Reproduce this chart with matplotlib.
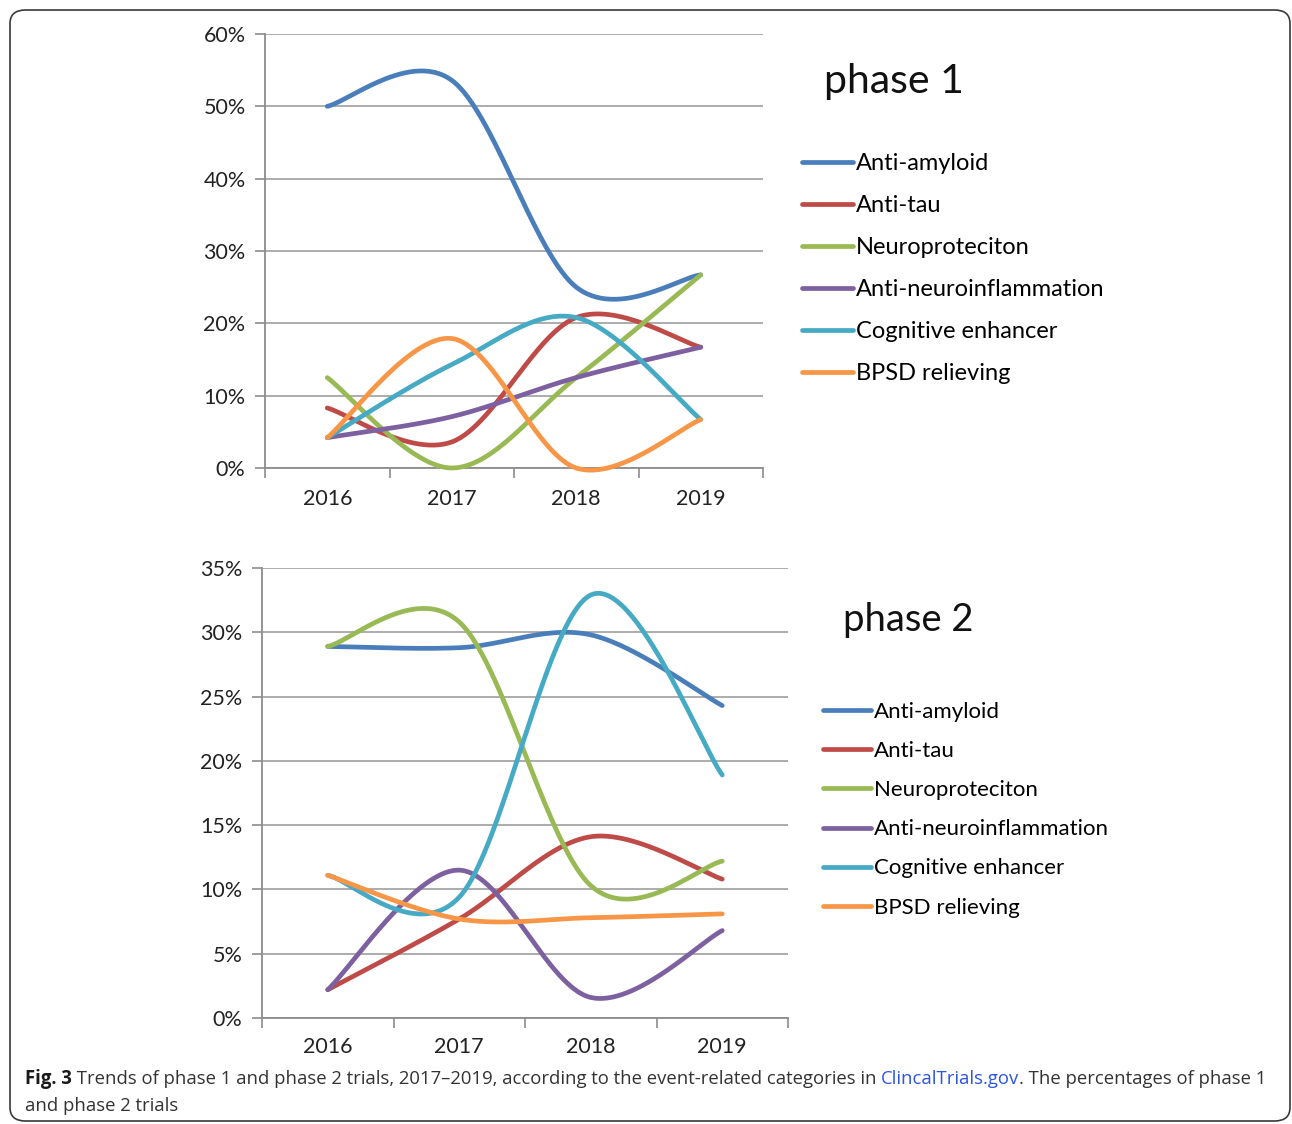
import numpy as np
import matplotlib.pyplot as plt
from matplotlib.patches import FancyBboxPatch
from matplotlib import font_manager

# ---- data (percent) ----
years = ['2016', '2017', '2018', '2019']
series_names = ['Anti-amyloid', 'Anti-tau', 'Neuroproteciton',
                'Anti-neuroinflammation', 'Cognitive enhancer', 'BPSD relieving']
colors = ['#4A7EBB', '#BE4B48', '#98B954', '#7D60A0', '#46AAC5', '#F79646']

p1_anti_amyloid = [50.0, 53.6, 25.0, 26.7]
p1_anti_tau = [8.3, 3.6, 20.8, 16.7]
p1_neuroprotection = [12.5, 0.0, 12.5, 26.7]
p1_anti_inflam = [4.2, 7.1, 12.5, 16.7]
p1_cognitive = [4.2, 14.3, 20.8, 6.7]
p1_bpsd = [4.2, 17.9, 0.0, 6.7]

p2_anti_amyloid = [28.9, 28.8, 29.8, 24.3]
p2_anti_tau = [2.2, 7.7, 14.1, 10.8]
p2_neuroprotection = [28.9, 30.8, 10.3, 12.2]
p2_anti_inflam = [2.2, 11.5, 1.6, 6.8]
p2_cognitive = [11.1, 9.4, 32.9, 18.9]
p2_bpsd = [11.1, 7.7, 7.8, 8.1]

phase1 = [p1_anti_amyloid, p1_anti_tau, p1_neuroprotection, p1_anti_inflam, p1_cognitive, p1_bpsd]
phase2 = [p2_anti_amyloid, p2_anti_tau, p2_neuroprotection, p2_anti_inflam, p2_cognitive, p2_bpsd]

names = {f.name for f in font_manager.fontManager.ttflist}
chart_font = 'Lato' if 'Lato' in names else 'DejaVu Sans'
cap_font = 'Open Sans' if 'Open Sans' in names else 'DejaVu Sans'
plt.rcParams['font.family'] = [chart_font, 'DejaVu Sans']


def smooth(y, n=60):
    # Excel-like smoothed line: cubic Bezier segments with Catmull-Rom control points
    x = np.arange(len(y), dtype=float)
    pts = np.column_stack([x, np.asarray(y, dtype=float)])
    P = np.vstack([pts[0], pts, pts[-1]])
    t = np.linspace(0, 1, n)[:, None]
    out = []
    for i in range(len(y) - 1):
        p0, p1, p2, p3 = P[i], P[i + 1], P[i + 2], P[i + 3]
        c1 = p1 + (p2 - p0) / 6
        c2 = p2 - (p3 - p1) / 6
        seg = (1 - t) ** 3 * p1 + 3 * (1 - t) ** 2 * t * c1 + 3 * (1 - t) * t ** 2 * c2 + t ** 3 * p2
        out.append(seg if i == 0 else seg[1:])
    seg = np.vstack(out)
    return seg[:, 0], seg[:, 1]


W, H = 1292, 1124
fig = plt.figure(figsize=(W / 100, H / 100), dpi=100)


def px_axes(l, t, r, b):
    return fig.add_axes([l / W, 1 - b / H, (r - l) / W, (b - t) / H])


def panel(ax, data, ymax, ystep, xpad, title, title_xy, leg_xy, leg_fs, leg_space):
    for vals, name, c in zip(data, series_names, colors):
        xs, ys = smooth(vals)
        ax.plot(xs, ys, color=c, lw=3.4, label=name, clip_on=False,
                solid_capstyle='round', zorder=3)
    ax.set_xlim(-0.5, len(years) - 0.5)
    ax.set_ylim(0, ymax)
    ax.set_yticks(np.arange(0, ymax + 0.1, ystep))
    ax.set_yticklabels([f'{int(v)}%' for v in np.arange(0, ymax + 0.1, ystep)])
    ax.set_xticks(range(len(years)))
    ax.set_xticklabels(years)
    ax.set_xticks(np.arange(-0.5, len(years)), minor=True)
    ax.tick_params(axis='x', which='major', length=0, pad=xpad, labelsize=15.5, labelcolor='#222222')
    ax.tick_params(axis='x', which='minor', length=7, width=1.2, color='#8c8c8c', direction='out')
    ax.tick_params(axis='y', length=7, width=1.2, color='#8c8c8c', direction='out',
                   pad=7, labelsize=15.5, labelcolor='#222222')
    ax.grid(axis='y', color='#a6a6a6', lw=1.3)
    ax.set_axisbelow(True)
    for s in ['top', 'right']:
        ax.spines[s].set_visible(False)
    for s in ['left', 'bottom']:
        ax.spines[s].set_color('#8c8c8c')
        ax.spines[s].set_linewidth(1.3)
    fig.text(title_xy[0] / W, 1 - title_xy[1] / H, title, fontsize=title_xy[2],
             ha='left', va='center', color='#111111')
    fig.legend(*ax.get_legend_handles_labels(), loc='upper left',
               bbox_to_anchor=(leg_xy[0] / W, 1 - leg_xy[1] / H), frameon=False,
               fontsize=leg_fs, handlelength=2.15, handletextpad=0.15,
               labelspacing=leg_space, borderpad=0, borderaxespad=0)


ax1 = px_axes(265, 34, 763, 468)
panel(ax1, phase1, 60, 10, 15, 'phase 1', (824, 82, 29.5), (802, 153), 17, 0.89)

ax2 = px_axes(262, 568, 788, 1018)
panel(ax2, phase2, 35, 5, 14, 'phase 2', (843, 620, 27.5), (823, 702), 16, 0.86)

# caption, sized so the first line spans the same width as in the figure
renderer = fig.canvas.get_renderer()
pieces = [('Fig. 3', 'bold', '#1a1a1a'),
          (' Trends of phase 1 and phase 2 trials, 2017\u20132019, according to the event-related categories in ', 'normal', '#333333'),
          ('ClincalTrials.gov', 'normal', '#2B55E0'),
          ('. The percentages of phase 1', 'normal', '#333333')]
probe = fig.text(0, 0, ''.join(p[0] for p in pieces), fontsize=10, family=[cap_font, 'DejaVu Sans'])
cap_fs = 10 * 1242 / probe.get_window_extent(renderer).width
probe.remove()
x = 25
for txt, wt, col in pieces:
    t = fig.text(x / W, 1 - 1079 / H, txt, fontsize=cap_fs, fontweight=wt, color=col,
                 family=[cap_font, 'DejaVu Sans'], va='center', ha='left')
    x += t.get_window_extent(renderer).width
fig.text(25 / W, 1 - 1106 / H, 'and phase 2 trials', fontsize=cap_fs, color='#333333',
         family=[cap_font, 'DejaVu Sans'], va='center', ha='left')

# rounded border around the figure
fig.patches.append(FancyBboxPatch((10 / W, 3 / H), 1280 / W, 1111 / H,
                                  boxstyle='round,pad=0,rounding_size=0.012',
                                  transform=fig.transFigure, fill=False,
                                  edgecolor='#3a3a3a', lw=1.2))

fig.savefig('out.png', dpi=100)
